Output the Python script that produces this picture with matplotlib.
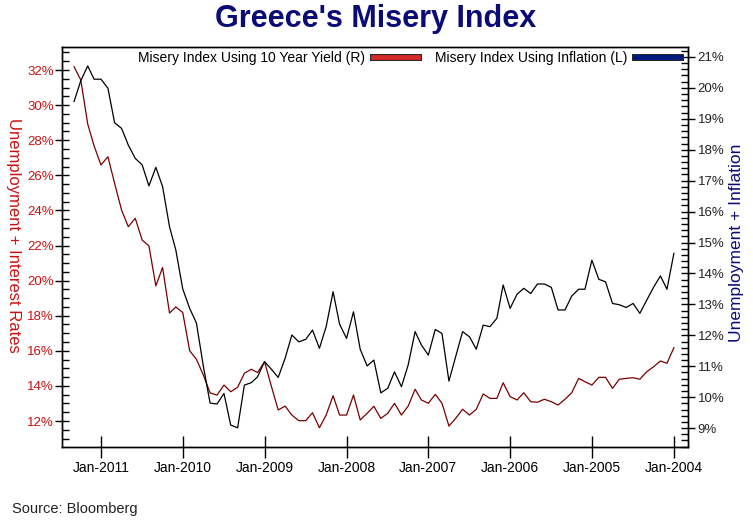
"""
plot.py
Greece's misery index, drawn mirrored like the reference (time runs right to left).
"""

import matplotlib
matplotlib.use('Agg')
import matplotlib.pyplot as plt
import matplotlib.dates as mdates
import matplotlib.patheffects as pe
from matplotlib.lines import Line2D
from matplotlib.ticker import MultipleLocator, FuncFormatter
import pandas as pd

# ---------- Data (monthly, Jan-2004 .. May-2011) ----------
start_month = '2004-01-01'
n_months = 89

# Unemployment + inflation, read on the navy (L) axis
misery_inflation = [
    14.65, 13.49, 13.92, 13.55, 13.14, 12.71, 13.03, 12.90, 12.99, 13.03, 13.73, 13.81,
    14.43, 13.49, 13.49, 13.27, 12.82, 12.82, 13.55, 13.66, 13.66, 13.35, 13.52, 13.33,
    12.87, 13.63, 12.55, 12.28, 12.33, 11.55, 11.95, 12.12, 11.31, 10.52, 12.06, 12.19,
    11.36, 11.69, 12.12, 11.04, 10.34, 10.82, 10.29, 10.14, 11.20, 11.01, 11.55, 12.76,
    11.90, 12.36, 13.41, 12.28, 11.58, 12.17, 11.87, 11.79, 12.01, 11.26, 10.64, 10.90,
    11.15, 10.66, 10.47, 10.39, 9.01, 9.10, 10.12, 9.78, 9.81, 11.00, 12.40, 12.87,
    13.50, 14.76, 15.51, 16.81, 17.43, 16.83, 17.51, 17.72, 18.15, 18.69, 18.87, 19.99,
    20.28, 20.28, 20.71, 20.23, 19.56,
]

# Unemployment + 10 year yield, read on the red (R) axis
misery_yield = [
    16.18, 15.29, 15.42, 15.09, 14.81, 14.38, 14.47, 14.43, 14.38, 13.86, 14.49, 14.49,
    14.05, 14.24, 14.43, 13.61, 13.24, 12.91, 13.10, 13.24, 13.07, 13.10, 13.61, 13.20,
    13.39, 14.18, 13.29, 13.29, 13.54, 12.67, 12.34, 12.67, 12.15, 11.71, 13.01, 13.52,
    13.01, 13.20, 13.81, 12.85, 12.34, 13.01, 12.44, 12.15, 12.84, 12.44, 12.06, 13.48,
    12.34, 12.34, 13.44, 12.34, 11.62, 12.47, 12.02, 12.02, 12.34, 12.85, 12.63, 13.96,
    15.38, 14.76, 14.95, 14.72, 13.92, 13.67, 14.05, 13.48, 13.60, 14.62, 15.52, 16.00,
    18.18, 18.50, 18.15, 20.75, 19.70, 21.98, 22.31, 23.55, 23.07, 24.02, 25.54, 27.06,
    26.59, 27.69, 28.92, 31.43, 32.19,
]

title = "Greece's Misery Index"
label_left = 'Unemployment + Interest Rates'
label_right = 'Unemployment + Inflation'
legend_yield = 'Misery Index Using 10 Year Yield (R)'
legend_inflation = 'Misery Index Using Inflation (L)'
source = 'Source: Bloomberg'

# ---------- Styling ----------
NAVY = '#0b0b78'
RED = '#cc1111'
LINE_RED = '#7a0000'
plt.rcParams['font.family'] = ['Liberation Sans', 'DejaVu Sans']

months = pd.date_range(start_month, periods=n_months, freq='MS')

fig = plt.figure(figsize=(7.53, 5.26), dpi=100)
ax = fig.add_axes([0.0823, 0.1502, 0.8314, 0.7604])
ax2 = ax.twinx()

ax.plot(months, misery_yield, color=LINE_RED, lw=0.9, zorder=3)
ax2.plot(months, misery_inflation, color='black', lw=0.9, zorder=3)

# mirrored time axis: newest on the left
ax.set_xlim(pd.Timestamp('2011-06-24'), pd.Timestamp('2003-10-30'))
ax.set_ylim(10.52, 33.31)
ax2.set_ylim(8.39, 21.32)

ax.xaxis.set_major_locator(mdates.YearLocator(month=1, day=1))
ax.xaxis.set_major_formatter(mdates.DateFormatter('Jan-%Y'))
ax.tick_params(axis='x', direction='inout', length=16, width=1, labelsize=10,
               pad=2, colors='black')

pct = FuncFormatter(lambda v, _: f'{v:.0f}%')

ax.yaxis.set_major_locator(MultipleLocator(2))
ax.yaxis.set_minor_locator(MultipleLocator(0.5))
ax.yaxis.set_major_formatter(pct)
ax.tick_params(axis='y', which='major', direction='inout', length=10, width=1,
               labelsize=9.5, labelcolor=RED, pad=1)
ax.tick_params(axis='y', which='minor', direction='in', length=5, width=1)

ax2.yaxis.set_major_locator(MultipleLocator(1))
ax2.yaxis.set_minor_locator(MultipleLocator(0.2))
ax2.yaxis.set_major_formatter(pct)
ax2.tick_params(axis='y', which='major', direction='inout', length=10, width=1,
                labelsize=9.5, labelcolor='#222222', pad=2)
ax2.tick_params(axis='y', which='minor', direction='in', length=5, width=1)

for a in (ax, ax2):
    for s in a.spines.values():
        s.set_linewidth(1)
        s.set_color('black')

ax.set_ylabel(label_left, color=RED, fontsize=12, rotation=270, va='center')
ax.yaxis.set_label_coords(-0.077, 0.53)
ax2.set_ylabel(label_right, color=NAVY, fontsize=12.5, rotation=90, va='center')
ax2.yaxis.set_label_coords(1.078, 0.51)

fig.text(0.499, 0.963, title, ha='center', va='center', fontsize=22,
         fontweight='bold', color=NAVY)
fig.text(0.016, 0.032, source, ha='left', va='center', fontsize=10.5,
         color='#222222')

# ---------- Legend: handles after text, as in the mirrored reference ----------
outline = [pe.withStroke(linewidth=5, foreground='#222222')]
handles = [
    Line2D([], [], color='#d42a2a', lw=3.5, path_effects=outline),
    Line2D([], [], color='#001a80', lw=3.5, path_effects=outline),
]
ax2.legend(handles, [legend_yield, legend_inflation], loc='upper right',
           bbox_to_anchor=(1.0, 1.01), ncol=2, frameon=False, markerfirst=False,
           fontsize=10, handlelength=3.2, handletextpad=0.6, columnspacing=1.2,
           borderaxespad=0.2)

fig.savefig('out.png', dpi=100)
